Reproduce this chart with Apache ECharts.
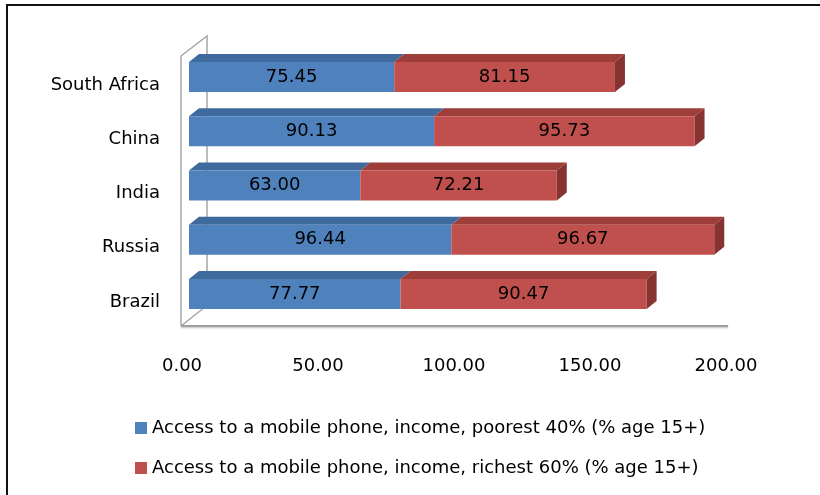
<!DOCTYPE html>
<html>
<head>
<meta charset="utf-8">
<script src="https://cdn.jsdelivr.net/npm/echarts@6/dist/echarts.min.js"></script>
<style>
  html, body { margin: 0; padding: 0; background: #fff; }
  #chart { width: 820px; height: 495px; }
</style>
</head>
<body>
<div id="chart"></div>
<script>
// Countries, bottom to top
const categories = ['Brazil', 'Russia', 'India', 'China', 'South Africa'];
// Access to a mobile phone, income, poorest 40% (% age 15+)
const poorest = [77.77, 96.44, 63.00, 90.13, 75.45];
// Access to a mobile phone, income, richest 60% (% age 15+)
const richest = [90.47, 96.67, 72.21, 95.73, 81.15];
const seriesNames = [
  'Access to a mobile phone, income, poorest 40% (% age 15+)',
  'Access to a mobile phone, income, richest 60% (% age 15+)'
];
const xTicks = [0, 50, 100, 150, 200];

const FONT = 'DejaVu Sans';
const BAR_H = 30, DEPTH_X = 10, DEPTH_Y = 8;

const palette = {
  blue: { front: '#4F81BD', top: '#3F6A9E', side: '#355A86' },
  red:  { front: '#C0504D', top: '#9E3E3B', side: '#863331' }
};

// Stacked segments: [start, end, categoryIndex, value]
const blueData = poorest.map((v, i) => [0, v, i, v]);
const redData = richest.map((v, i) => [poorest[i], poorest[i] + v, i, v]);

function make3dRender(col, drawSide) {
  return function (params, api) {
    const a = api.coord([api.value(0), api.value(2)]);
    const b = api.coord([api.value(1), api.value(2)]);
    const x0 = a[0], x1 = b[0];
    const top = a[1] - BAR_H / 2, bottom = a[1] + BAR_H / 2;
    const children = [
      { type: 'polygon', shape: { points: [[x0, top], [x1, top], [x1 + DEPTH_X, top - DEPTH_Y], [x0 + DEPTH_X, top - DEPTH_Y]] },
        style: { fill: col.top } },
      { type: 'rect', shape: { x: x0, y: top, width: x1 - x0, height: BAR_H },
        style: { fill: col.front } }
    ];
    if (drawSide) {
      children.push({ type: 'polygon', shape: { points: [[x1, top], [x1 + DEPTH_X, top - DEPTH_Y], [x1 + DEPTH_X, bottom - DEPTH_Y], [x1, bottom]] },
        style: { fill: col.side } });
    }
    children.push({ type: 'text', x: (x0 + x1) / 2, y: a[1],
      style: { text: api.value(3).toFixed(2), fill: '#000', font: '18px "' + FONT + '"', align: 'center', verticalAlign: 'middle' } });
    return { type: 'group', children: children };
  };
}

const chart = echarts.init(document.getElementById('chart'), null, { renderer: 'canvas' });

chart.setOption({
  backgroundColor: '#fff',
  animation: false,
  textStyle: { fontFamily: FONT },
  grid: { left: 189, top: 50, width: 544, height: 271, containLabel: false },
  xAxis: {
    type: 'value', min: xTicks[0], max: xTicks[xTicks.length - 1], interval: 50,
    axisLine: { show: false }, axisTick: { show: false }, splitLine: { show: false },
    axisLabel: {
      margin: 36, fontSize: 18, color: '#000', fontFamily: FONT,
      padding: [0, 14, 0, 0],
      formatter: v => v.toFixed(2)
    }
  },
  yAxis: {
    type: 'category', data: categories,
    axisLine: { show: false }, axisTick: { show: false }, splitLine: { show: false },
    axisLabel: { margin: 29, fontSize: 18, color: '#000', fontFamily: FONT, verticalAlign: 'top', lineHeight: 16 }
  },
  legend: {
    orient: 'vertical', left: 130, top: 413,
    itemWidth: 12, itemHeight: 12, itemGap: 20, icon: 'rect',
    textStyle: { fontSize: 18, color: '#000', fontFamily: FONT, lineHeight: 20 },
    data: seriesNames
  },
  graphic: [
    // walls and floor outline
    { type: 'polyline', silent: true, z: 0,
      shape: { points: [[181, 326], [181, 56], [207, 36], [207, 307]] },
      style: { stroke: '#A6A6A6', lineWidth: 1.5, fill: null } },
    { type: 'line', silent: true, z: 0,
      shape: { x1: 181, y1: 326, x2: 205, y2: 307 },
      style: { stroke: '#A6A6A6', lineWidth: 1.5 } },
    { type: 'line', silent: true, z: 0,
      shape: { x1: 181, y1: 326, x2: 728, y2: 326 },
      style: { stroke: '#A0A0A0', lineWidth: 2, shadowColor: 'rgba(0,0,0,0.25)', shadowBlur: 2, shadowOffsetY: 1 } },
    // chart frame
    { type: 'polyline', silent: true, z: 10,
      shape: { points: [[7, 495], [7, 5], [820, 5]] },
      style: { stroke: '#111', lineWidth: 2, fill: null } }
  ],
  series: [
    { type: 'custom', name: seriesNames[0], itemStyle: { color: palette.blue.front },
      renderItem: make3dRender(palette.blue, false), encode: { x: [0, 1], y: 2 }, data: blueData, z: 2 },
    { type: 'custom', name: seriesNames[1], itemStyle: { color: palette.red.front },
      renderItem: make3dRender(palette.red, true), encode: { x: [0, 1], y: 2 }, data: redData, z: 3 }
  ]
});
</script>
</body>
</html>
